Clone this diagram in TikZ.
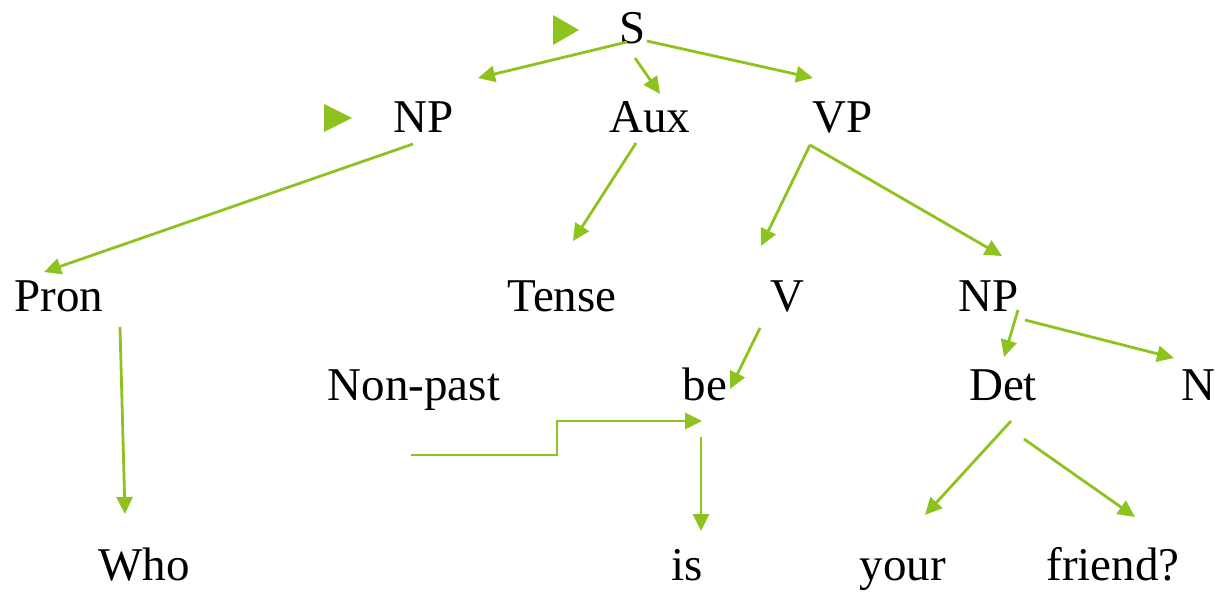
\documentclass[tikz,border=0pt]{standalone}
\usepackage{fontspec}
\setmainfont{Liberation Serif}
\usetikzlibrary{arrows.meta}
\definecolor{lgreen}{HTML}{8DC21F}
\begin{document}
\begin{tikzpicture}[x=1pt,y=-1pt,
  word/.style={anchor=base,inner sep=0pt,font=\fontsize{47}{56}\selectfont},
  edge/.style={draw=lgreen,line width=2.8pt,-{Triangle[length=17pt,width=16pt]}}]
\useasboundingbox (0,0) rectangle (1217,593);
% bullets
\fill[lgreen] (553,15) -- (579,30) -- (553,45) -- cycle;
\fill[lgreen] (324,104) -- (352,118) -- (324,132) -- cycle;
% words
\node[word] (S) at (633,44) {S};
\node[word] (NP1) at (424,133) {NP};
\node[word] (Aux) at (650,133) {Aux};
\node[word] (VP) at (843,133) {VP};
\node[word] (Pron) at (59,312) {Pron};
\node[word] (Tense) at (562,312) {Tense};
\node[word] (V) at (787,312) {V};
\node[word] (NP2) at (989,312) {NP};
\node[word] (Nonpast) at (414,400) {Non-past};
\node[word] (be) at (705,400) {be};
\node[word] (Det) at (1003,400) {Det};
\node[word] (N) at (1198,400) {N};
\node[word] (Who) at (144,580) {Who};
\node[word] (is) at (687,580) {is};
\node[word] (your) at (903,580) {your};
\node[word] (friend) at (1113,580) {friend?};
% connector end points
\coordinate (s1) at (627,42); \coordinate (t1) at (478,78);
\coordinate (s2) at (635,58); \coordinate (t2) at (660,94);
\coordinate (s3) at (647,41); \coordinate (t3) at (813,78);
\coordinate (s4) at (413,144); \coordinate (t4) at (44,272);
\coordinate (s5) at (636,143); \coordinate (t5) at (573,241);
\coordinate (s6) at (810,145); \coordinate (t6) at (761,246);
\coordinate (t7) at (1002,256);
\coordinate (s8) at (760,328); \coordinate (t8) at (730,389);
\coordinate (s9) at (1018,310); \coordinate (t9) at (1004,357);
\coordinate (s10) at (1025,320); \coordinate (t10) at (1174,358);
\coordinate (s11) at (120,327); \coordinate (t11) at (125,514);
\coordinate (s12) at (411,455); \coordinate (t12) at (702,421);
\coordinate (s13) at (701,437); \coordinate (t13) at (701,531);
\coordinate (s14) at (1011,421); \coordinate (t14) at (925,515);
\coordinate (s15) at (1024,439); \coordinate (t15) at (1135,517);
% connectors
\draw[edge] (s1) -- (t1);
\draw[edge] (s2) -- (t2);
\draw[edge] (s3) -- (t3);
\draw[edge] (s4) -- (t4);
\draw[edge] (s5) -- (t5);
\draw[edge] (s6) -- (t6);
\draw[edge] (s6) -- (t7);
\draw[edge] (s8) -- (t8);
\draw[edge] (s9) -- (t9);
\draw[edge] (s10) -- (t10);
\draw[edge] (s11) -- (t11);
\draw[edge] (s12) -- (557,455) -- (557,421) -- (t12);
\draw[edge] (s13) -- (t13);
\draw[edge] (s14) -- (t14);
\draw[edge] (s15) -- (t15);
\end{tikzpicture}
\end{document}
